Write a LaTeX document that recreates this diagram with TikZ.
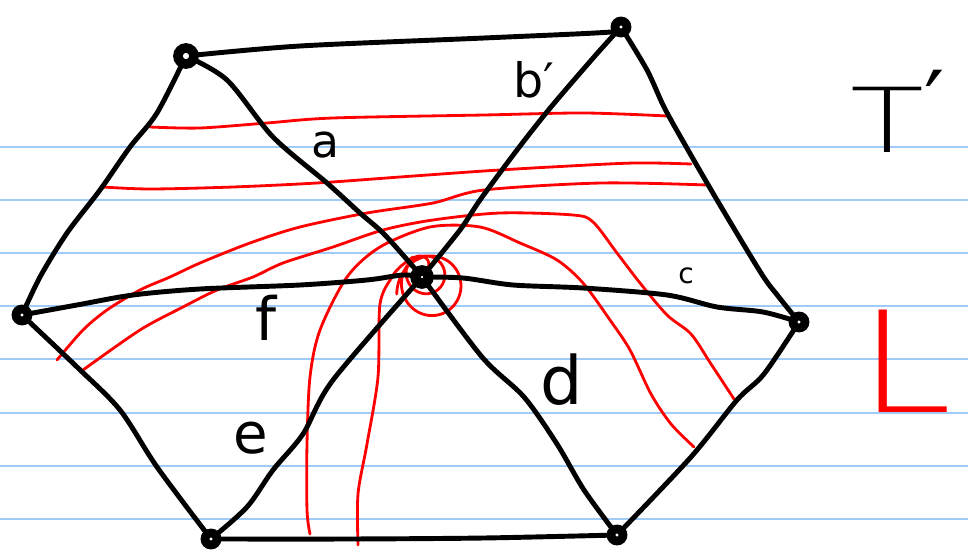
\documentclass[tikz,border=0pt]{standalone}
\usepackage{fontspec}
\newfontfamily\hand{DejaVu Sans}
\newfontfamily\handthin{DejaVu Sans ExtraLight}
\definecolor{rulecol}{RGB}{160,202,248}
\definecolor{redink}{RGB}{255,0,0}
\begin{document}
\begin{tikzpicture}[x=0.02cm,y=-0.02cm,
  blk/.style={black, line width=2.8pt, line cap=round, line join=round},
  redc/.style={redink, line width=1.6pt, line cap=round, line join=round},
  ruled/.style={rulecol, line width=1.1pt},
  vtx/.style={circle, draw=black, fill=white, line width=5pt, minimum size=0.24cm, inner sep=0pt},
  lab/.style={inner sep=0pt}]
\useasboundingbox (0,0) rectangle (968,554);
\fill[white] (0,0) rectangle (968,554);
% ruled paper
\foreach \yy in {147,200,253,306,359,413,466,519} \draw[ruled] (0,\yy) -- (968,\yy);
% vertices
\coordinate (TL) at (186,56);
\coordinate (TR) at (621,27);
\coordinate (L) at (22,315);
\coordinate (R) at (799,322);
\coordinate (BL) at (211,539);
\coordinate (BR) at (617,535);
\coordinate (C) at (422,277);
% red curves
\draw[redc] plot[smooth] coordinates {(150,127) (200,128) (267,123) (333,118) (484,115) (584,113) (667,116)};
\draw[redc] plot[smooth] coordinates {(103,187) (150,189) (233,187) (317,183) (400,177) (484,171) (551,167) (634,163) (691,164)};
\draw[redc] plot[smooth] coordinates {(57,360) (83,330) (107,310) (140,290) (170,277) (200,263) (250,243) (300,227) (367,213) (433,203) (484,190) (601,183) (707,185)};
\draw[redc] plot[smooth] coordinates {(83,370) (140,330) (183,307) (217,290) (253,277) (283,263) (333,247) (383,230) (433,220) (500,213) (573,215) (593,222) (617,253) (640,283) (667,315) (691,334) (711,364) (734,399)};
\draw[redc] plot[smooth] coordinates {(310,534) (307,510) (307,444) (310,377) (320,330) (347,277) (380,247) (430,227) (480,227) (520,243) (557,260) (583,283) (610,320) (630,350) (651,394) (671,424) (694,447)};
\draw[redc] plot[smooth] coordinates {(358,545) (358,494) (367,444) (378,377) (380,304) (392,277) (400,267) (413,257)};
\draw[redc] plot[smooth, domain=0:900, samples=180] ({413+0.55*(10+0.029*\x)+(10+0.029*\x)*cos(\x)}, {256+1.05*(10+0.029*\x)-1.05*(10+0.029*\x)*sin(\x)});
% black edges
\draw[blk] plot[smooth] coordinates {(TL) (300,46) (484,38) (611,32) (TR)};
\draw[blk] plot[smooth] coordinates {(TL) (157,113) (130,147) (100,190) (67,233) (40,277) (L)};
\draw[blk] plot[smooth] coordinates {(TL) (227,80) (273,137) (327,183) (360,213) (383,233) (410,263) (C)};
\draw[blk] plot[smooth] coordinates {(TR) (594,57) (551,107) (517,150) (480,200) (460,230) (C)};
\draw[blk] plot[smooth] coordinates {(TR) (647,70) (664,107) (684,143) (717,200) (761,273) (778,296) (R)};
\draw[blk] plot[smooth] coordinates {(L) (77,305) (133,295) (200,289) (300,285) (367,280) (403,275) (C)};
\draw[blk] plot[smooth] coordinates {(C) (463,278) (513,285) (583,288) (667,295) (717,307) (763,312) (R)};
\draw[blk] plot[smooth] coordinates {(C) (333,380) (303,434) (273,470) (247,507) (BL)};
\draw[blk] plot[smooth] coordinates {(C) (482,357) (524,397) (557,444) (584,490) (BR)};
\draw[blk] plot[smooth] coordinates {(L) (77,367) (120,410) (157,467) (BL)};
\draw[blk] plot[smooth] coordinates {(BL) (350,539) (484,538) (BR)};
\draw[blk] plot[smooth] coordinates {(BR) (691,457) (737,400) (764,374) (R)};
% vertex dots
\node[vtx, minimum size=0.32cm, line width=5.5pt] (tldot) at (TL) {};
\node[vtx] (trdot) at (TR) {};
\node[vtx] (ldot) at (L) {};
\node[vtx] (rdot) at (R) {};
\node[vtx] (bldot) at (BL) {};
\node[vtx] (brdot) at (BR) {};
\node[vtx, minimum size=0.26cm, line width=6pt] (cdot) at (C) {};
% labels
\node[lab, font=\hand\fontsize{26}{26}\selectfont] (la) at (325,145) {a};
\node[lab, font=\hand\fontsize{27}{27}\selectfont] (lb) at (534,80) {b′};
\node[lab, font=\hand\fontsize{16}{16}\selectfont] (lc) at (686,276) {c};
\node[lab, font=\hand\fontsize{38}{38}\selectfont] (ld) at (562,380) {d};
\node[lab, font=\hand\fontsize{32}{32}\selectfont] (le) at (251,438) {e};
\node[lab, font=\hand\fontsize{34}{34}\selectfont] (lf) at (266,318) {f};
\node[lab, anchor=base west, font=\handthin\fontsize{51}{51}\selectfont] (lT) at (850,153) {\scalebox{1.35}[1]{T}{\hand\raisebox{10pt}{′}}};
\node[lab, anchor=base west, text=redink, font=\handthin\fontsize{80}{80}\selectfont] (lL) at (858,412) {\scalebox{1.2}[1]{L}};
\end{tikzpicture}
\end{document}
